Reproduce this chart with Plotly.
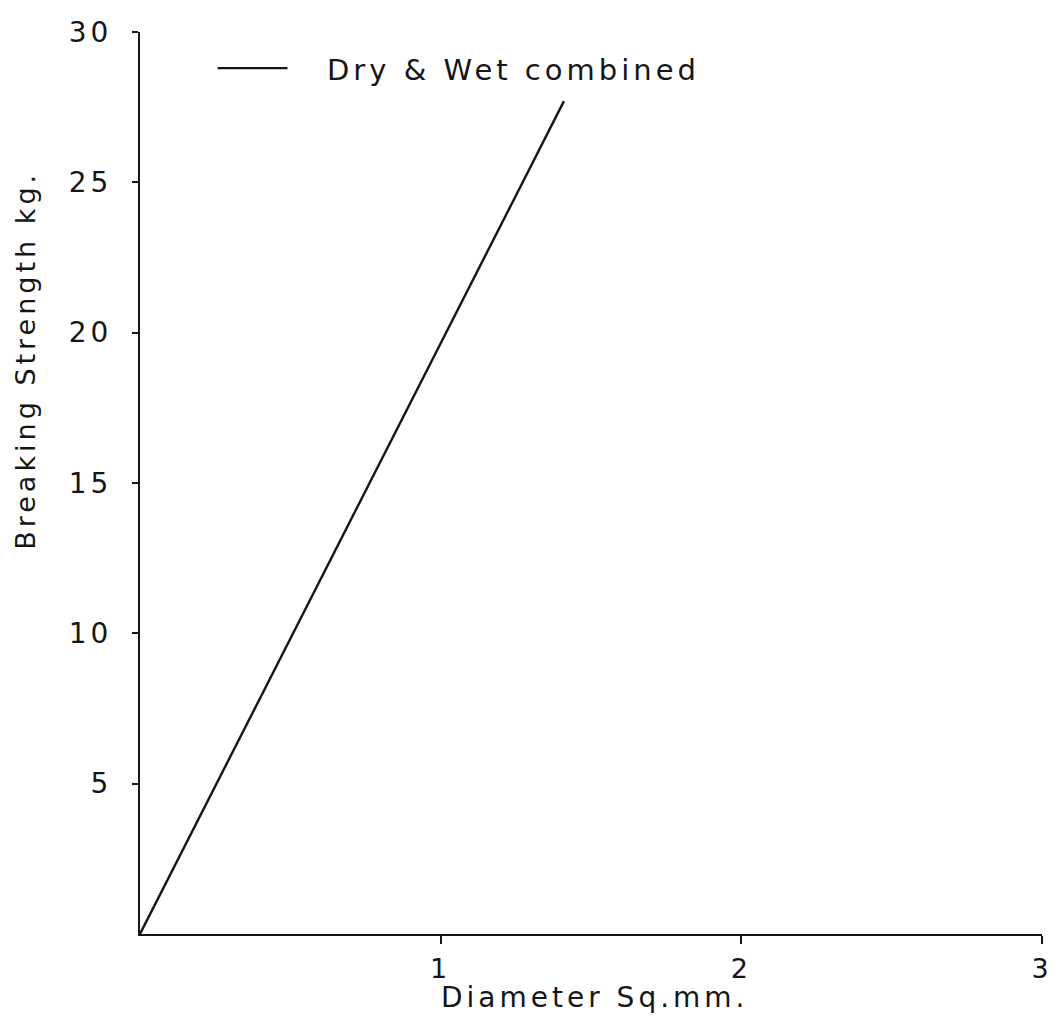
import plotly.graph_objects as go

# Breaking strength against diameter (sq. mm), dry and wet fibres combined
diameter_sq_mm = [0.0, 1.41]
breaking_strength_kg = [0.0, 27.7]

x_tick_vals = [1, 2, 3]
x_tick_text = ["1", "2", "3"]
y_tick_vals = [5, 10, 15, 20, 25, 30]
y_tick_text = ["5", "10", "15", "20", "25", "30"]

series_name = "Dry & Wet combined"
x_title = "Diameter Sq.mm."
y_title = "Breaking Strength kg."

INK = "#161616"
FONT = "DejaVu Sans"

fig = go.Figure()
fig.add_trace(
    go.Scatter(
        x=diameter_sq_mm,
        y=breaking_strength_kg,
        mode="lines",
        line=dict(color=INK, width=2.4),
        name=series_name,
        showlegend=False,
        hoverinfo="skip",
    )
)

# Hand-drawn style key: short rule followed by the series name
fig.add_shape(
    type="line", xref="paper", yref="paper",
    x0=0.086, x1=0.1635, y0=0.960, y1=0.960,
    line=dict(color=INK, width=2.2),
)
fig.add_annotation(
    xref="paper", yref="paper", x=0.205, y=0.958,
    xanchor="left", yanchor="middle", align="left",
    text=series_name, showarrow=False,
    font=dict(family=FONT, size=29, color=INK),
)

# Axis titles
fig.add_annotation(
    xref="paper", yref="paper", x=0.504, y=-0.07,
    xanchor="center", yanchor="middle",
    text=x_title, showarrow=False,
    font=dict(family=FONT, size=28, color=INK),
)
fig.add_annotation(
    xref="paper", yref="paper", x=-0.127, y=0.636,
    xanchor="center", yanchor="middle", textangle=-90,
    text=y_title, showarrow=False,
    font=dict(family=FONT, size=27, color=INK),
)

fig.update_xaxes(
    range=[0, 3],
    tickvals=x_tick_vals, ticktext=x_tick_text,
    ticks="outside", ticklen=8, tickwidth=2, tickcolor=INK,
    showline=True, linecolor=INK, linewidth=2,
    showgrid=False, zeroline=False,
    tickfont=dict(family=FONT, size=27, color=INK),
    ticklabelstandoff=2,
)
fig.update_yaxes(
    range=[0, 30],
    tickvals=y_tick_vals, ticktext=y_tick_text,
    ticks="outside", ticklen=6, tickwidth=2, tickcolor=INK,
    showline=True, linecolor=INK, linewidth=2,
    showgrid=False, zeroline=False,
    tickfont=dict(family=FONT, size=28, color=INK),
    ticklabelstandoff=14,
)

fig.update_layout(
    width=1063, height=1029,
    margin=dict(l=140, r=18, t=32, b=95),
    paper_bgcolor="white", plot_bgcolor="white",
    showlegend=False,
)

# Widen the letter spacing of every label, like stencil lettering
spacing_js = """
var gd = document.getElementById('{plot_id}');
function spaceOut() {
  gd.querySelectorAll('text').forEach(function (t) { t.style.letterSpacing = '4px'; });
}
spaceOut();
setTimeout(spaceOut, 50);
if (gd.on) { gd.on('plotly_afterplot', spaceOut); }
"""

fig.write_html("out.html", post_script=spacing_js)
